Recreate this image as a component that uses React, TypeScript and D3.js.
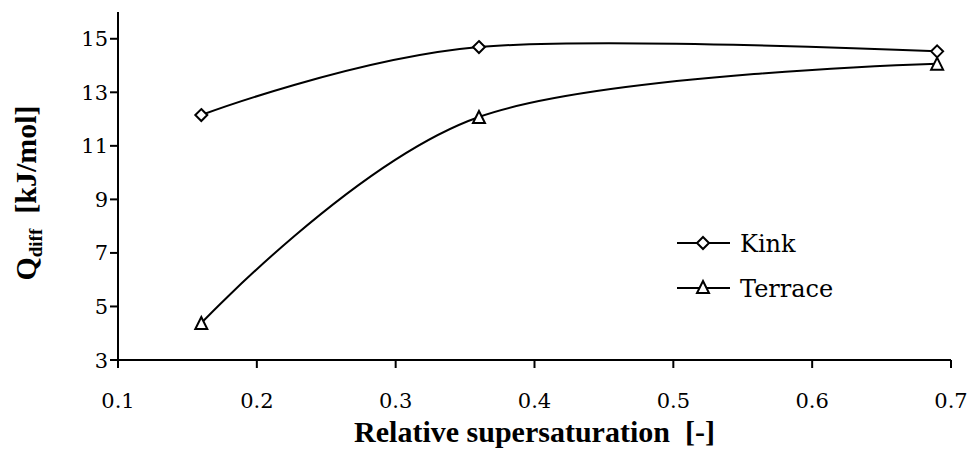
import React from "react";
import * as d3 from "d3";

const xTicks = [0.1, 0.2, 0.3, 0.4, 0.5, 0.6, 0.7];
const yTicks = [3, 5, 7, 9, 11, 13, 15];
const supersat = [0.16, 0.36, 0.69];
const kink = [12.15, 14.69, 14.53];
const terrace = [4.38, 12.08, 14.07];
const seriesNames = ["Kink", "Terrace"];

const W = 968, H = 449;
const x = d3.scaleLinear().domain([0.1, 0.7]).range([118, 951]);
const y = d3.scaleLinear().domain([3, 16]).range([360, 12]);

const line = d3.line<[number, number]>()
  .x(d => x(d[0]))
  .y(d => y(d[1]))
  .curve(d3.curveCardinal.tension(0));

const diamond = (cx: number, cy: number, r = 6) =>
  `M${cx},${cy - r}L${cx + r},${cy}L${cx},${cy + r}L${cx - r},${cy}Z`;
const triangle = (cx: number, cy: number, r = 6) =>
  `M${cx},${cy - r}L${cx + r},${cy + r}L${cx - r},${cy + r}Z`;

const boldFont = "'Liberation Serif'";
const regFont = "'DejaVu Serif'";

export default function App() {
  const kPts = supersat.map((s, i) => [s, kink[i]] as [number, number]);
  const tPts = supersat.map((s, i) => [s, terrace[i]] as [number, number]);
  return (
    <svg width={W} height={H} style={{ position: "absolute", left: 0, top: 0, background: "#fff" }}>
      <rect width={W} height={H} fill="#fff" />
      <line x1={x(0.1)} x2={x(0.7)} y1={y(3)} y2={y(3)} stroke="#000" strokeWidth={2} />
      <line x1={x(0.1)} x2={x(0.1)} y1={y(3)} y2={y(16)} stroke="#000" strokeWidth={2} />
      {yTicks.map(t => (
        <g key={"y" + t}>
          <line x1={x(0.1) - 8} x2={x(0.1)} y1={y(t)} y2={y(t)} stroke="#000" strokeWidth={2} />
          <text x={x(0.1) - 10} y={y(t)} dy="0.36em" textAnchor="end"
            fontSize={21} style={{ fontFamily: regFont }}>{t}</text>
        </g>
      ))}
      {xTicks.map(t => (
        <g key={"x" + t}>
          <line x1={x(t)} x2={x(t)} y1={y(3)} y2={y(3) + 8} stroke="#000" strokeWidth={2} />
          <text x={x(t)} y={408} textAnchor="middle" fontSize={21}
            style={{ fontFamily: regFont }}>{t}</text>
        </g>
      ))}
      <text x={(x(0.1) + x(0.7)) / 2} y={442} textAnchor="middle" fontSize={30} fontWeight="bold"
        style={{ whiteSpace: "pre", fontFamily: boldFont }}>
        {"Relative supersaturation  [-]"}
      </text>
      <text transform={`translate(36,${(y(3) + y(16)) / 2 + 7}) rotate(-90)`} textAnchor="middle"
        fontSize={30} fontWeight="bold" style={{ whiteSpace: "pre", fontFamily: boldFont }}>
        Q<tspan fontSize={19} dy="6">diff</tspan><tspan dy="-6">{"  [kJ/mol]"}</tspan>
      </text>
      <path d={line(kPts) || ""} fill="none" stroke="#000" strokeWidth={2} />
      <path d={line(tPts) || ""} fill="none" stroke="#000" strokeWidth={2} />
      {kPts.map((p, i) => (
        <path key={"k" + i} d={diamond(x(p[0]), y(p[1]))} fill="#fff" stroke="#000" strokeWidth={2} />
      ))}
      {tPts.map((p, i) => (
        <path key={"t" + i} d={triangle(x(p[0]), y(p[1]))} fill="#fff" stroke="#000" strokeWidth={2} />
      ))}
      {seriesNames.map((n, i) => {
        const ly = i === 0 ? 243 : 288;
        return (
          <g key={n}>
            <line x1={677} x2={730} y1={ly} y2={ly} stroke="#000" strokeWidth={2} />
            <path d={i === 0 ? diamond(703, ly) : triangle(703, ly - 1)} fill="#fff" stroke="#000" strokeWidth={2} />
            <text x={740} y={ly} dy="0.36em" fontSize={24}
              style={{ fontFamily: regFont }}>{n}</text>
          </g>
        );
      })}
    </svg>
  );
}
